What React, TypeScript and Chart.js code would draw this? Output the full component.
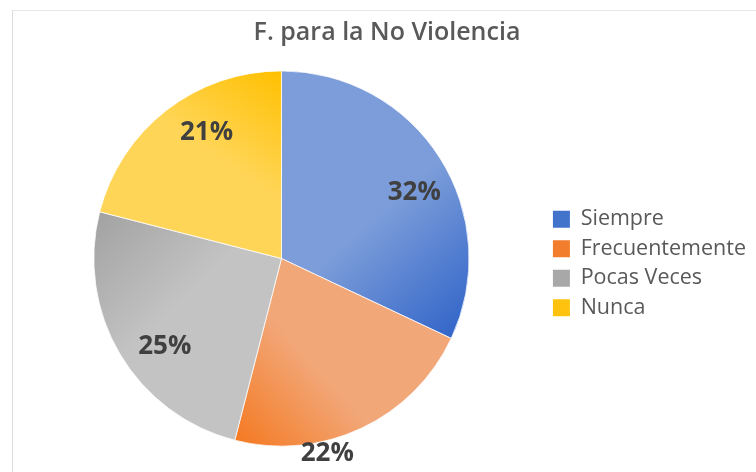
import React, { useEffect, useRef } from "react";
import { Chart, registerables } from "chart.js";

Chart.register(...registerables);

const title = "F. para la No Violencia";
const categories = ["Siempre", "Frecuentemente", "Pocas Veces", "Nunca"];
const values = [32, 22, 25, 21];
const lightColors = ["#7c9dd9", "#f2a779", "#c3c3c3", "#ffd557"];
const darkColors = ["#3366c9", "#f47a22", "#a2a2a2", "#ffc000"];
const legendColors = ["#4274cc", "#f27d2c", "#a8a8a8", "#ffc30f"];

const labelPlugin = {
  id: "pieLabels",
  afterDatasetsDraw(chart: any, _args: any, opts: any) {
    const ctx = chart.ctx;
    const meta = chart.getDatasetMeta(0);
    const data = chart.data.datasets[0].data as number[];
    const total = data.reduce((a, b) => a + b, 0);
    ctx.save();
    ctx.font = opts.font;
    ctx.fillStyle = opts.color;
    ctx.textAlign = "center";
    ctx.textBaseline = "middle";
    meta.data.forEach((arc: any, i: number) => {
      const p = arc.getProps(["x", "y", "startAngle", "endAngle", "outerRadius"], true);
      const mid = (p.startAngle + p.endAngle) / 2 + (opts.angleShift[i] * Math.PI) / 180;
      const r = p.outerRadius * opts.radius[i];
      const pct = Math.round((data[i] / total) * 100) + "%";
      ctx.fillText(pct, p.x + Math.cos(mid) * r, p.y + Math.sin(mid) * r);
    });
    ctx.restore();
  },
};

function sliceGradient(context: any) {
  const chart = context.chart;
  const i = context.dataIndex;
  const area = chart.chartArea;
  if (!area || i === undefined) return legendColors[i || 0];
  const data = chart.data.datasets[0].data as number[];
  const total = data.reduce((a, b) => a + b, 0);
  let before = 0;
  for (let k = 0; k < i; k++) before += data[k];
  const start = -Math.PI / 2 + (before / total) * Math.PI * 2;
  const end = start + (data[i] / total) * Math.PI * 2;
  const cx = (area.left + area.right) / 2;
  const cy = (area.top + area.bottom) / 2;
  const r = Math.min(area.right - area.left, area.bottom - area.top) / 2;
  const x1 = cx + Math.cos(start) * r * 0.6;
  const y1 = cy + Math.sin(start) * r * 0.6;
  const x2 = cx + Math.cos(end) * r;
  const y2 = cy + Math.sin(end) * r;
  const g = chart.ctx.createLinearGradient(x1, y1, x2, y2);
  g.addColorStop(0, lightColors[i]);
  g.addColorStop(0.45, lightColors[i]);
  g.addColorStop(1, darkColors[i]);
  return g;
}

export default function App() {
  const ref = useRef<HTMLCanvasElement | null>(null);
  useEffect(() => {
    document.body.style.margin = "0";
    const chart = new Chart(ref.current as HTMLCanvasElement, {
      type: "pie",
      data: {
        labels: categories,
        datasets: [
          {
            data: values,
            backgroundColor: sliceGradient as any,
            borderWidth: 0.75,
            borderColor: "#ffffff",
          },
        ],
      },
      plugins: [labelPlugin],
      options: {
        animation: false,
        responsive: false,
        maintainAspectRatio: false,
        layout: { padding: { left: 18, right: 0, top: 0, bottom: 25.5 } },
        plugins: {
          title: {
            display: true,
            text: title,
            color: "#595959",
            font: { family: "'Open Sans'", size: 25, weight: "600" as any, lineHeight: 1.2 },
            padding: { top: 18, bottom: 22.5 },
          },
          legend: {
            position: "right",
            fullSize: false,
            title: { display: true, text: "", font: { size: 1 }, padding: { top: 4.5, bottom: 4.5 } },
            labels: {
              color: "#595959",
              font: { family: "'Open Sans'", size: 21.5 },
              boxWidth: 17,
              boxHeight: 17,
              padding: 8,
              generateLabels: (chart: any) =>
                chart.data.labels.map((l: string, i: number) => ({
                  text: l,
                  fillStyle: legendColors[i],
                  strokeStyle: legendColors[i],
                  lineWidth: 0,
                  fontColor: "#595959",
                  index: i,
                  hidden: false,
                })),
            },
          },
          tooltip: { enabled: false },
          pieLabels: {
            font: "bold 26px 'Open Sans'",
            color: "#404040",
            radius: [0.79, 1.07, 0.78, 0.78],
            angleShift: [6, 12, -6.5, 7],
          },
        } as any,
      },
    });
    return () => chart.destroy();
  }, []);
  return (
    <div style={{ position: "relative", width: 756, height: 472, overflow: "hidden", background: "#fff" }}>
      <div
        style={{
          position: "absolute",
          left: 12,
          top: 10,
          width: 800,
          height: 500,
          borderLeft: "1px solid #dcdcdc",
          borderTop: "1px solid #e6e6e6",
        }}
      />
      <canvas ref={ref} width={756} height={472} style={{ position: "absolute", left: 0, top: 0 }} />
    </div>
  );
}
